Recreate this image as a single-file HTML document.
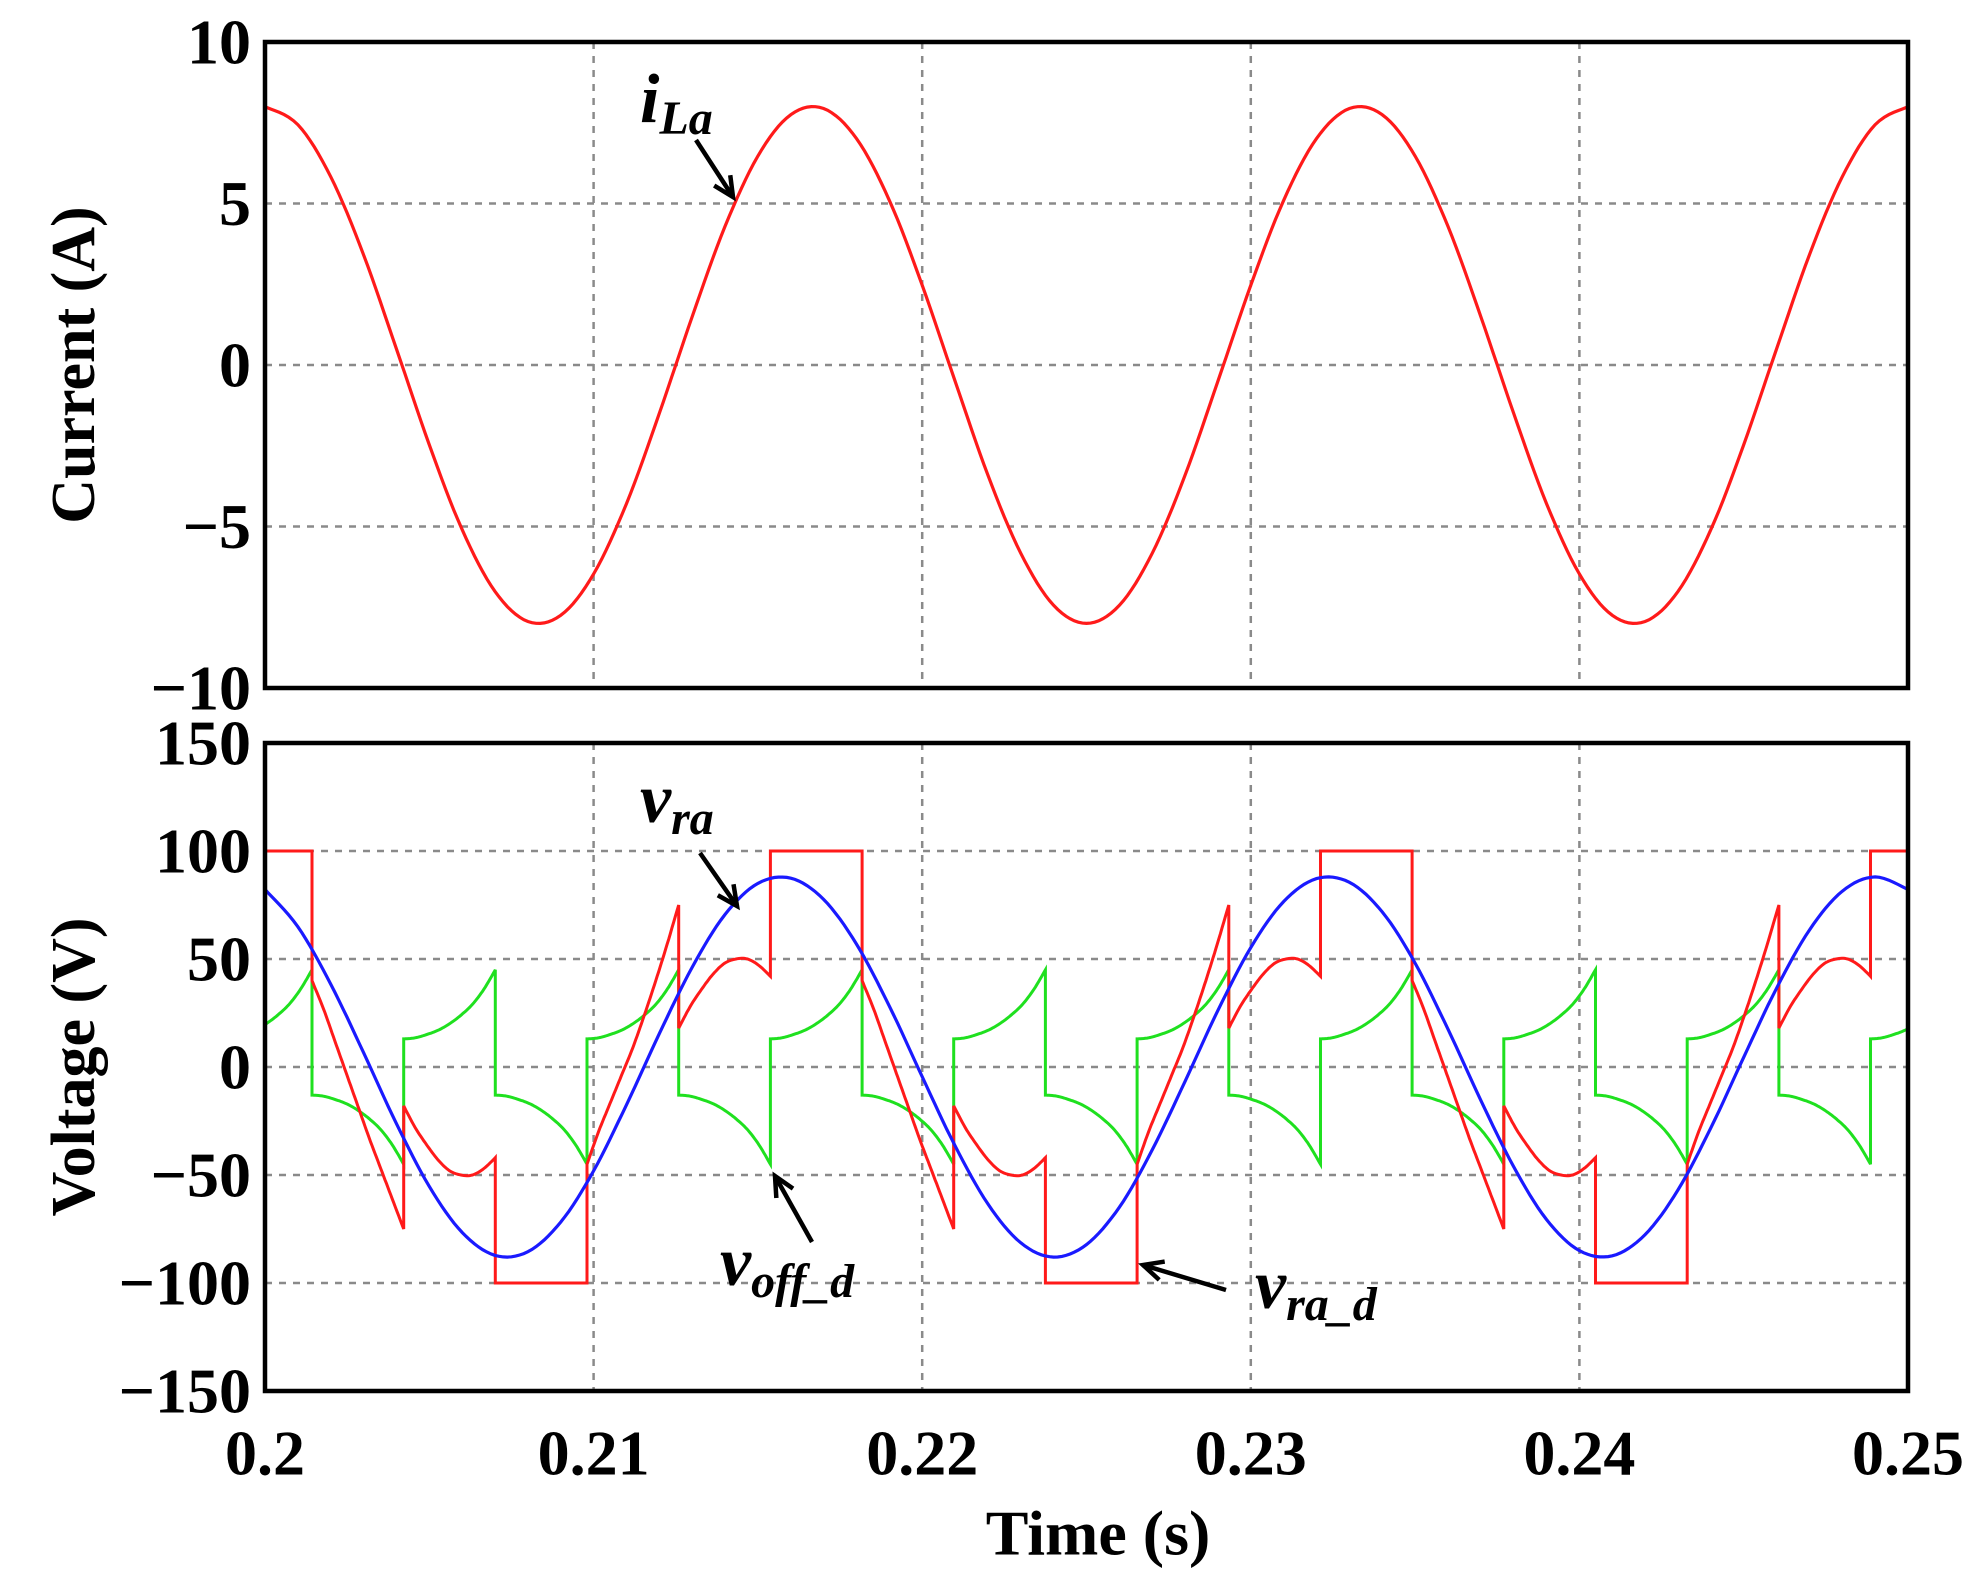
<!DOCTYPE html>
<html><head><meta charset="utf-8"><style>
html,body{margin:0;padding:0;background:#fff;}
svg{display:block;}
.t{font-family:"Liberation Serif",serif;font-weight:bold;fill:#000;}
</style></head><body>
<svg id="chart" width="1987" height="1579" viewBox="0 0 1987 1579" xmlns="http://www.w3.org/2000/svg">
<g id="grid"></g><g id="series"></g><g id="frames"></g><g id="labels"></g>
</svg>
<script>
// ---------- data ----------
const xTicks = [0.2, 0.21, 0.22, 0.23, 0.24, 0.25];
const xTickLabels = ["0.2", "0.21", "0.22", "0.23", "0.24", "0.25"];
const iTicks = [10, 5, 0, -5, -10];
const iTickLabels = ["10", "5", "0", "\u22125", "\u221210"];
const vTicks = [150, 100, 50, 0, -50, -100, -150];
const vTickLabels = ["150", "100", "50", "0", "\u221250", "\u2212100", "\u2212150"];
// sample times (ms after 0.2 s) for the sinusoidal traces
const sampleMs = [0,1,2,3,4,5,6,7,8,9,10,11,12,13,14,15,16,17,18,19,20,21,22,23,24,25,26,27,28,29,30,31,32,33,34,35,36,37,38,39,40,41,42,43,44,45,46,47,48,49,50];
const iLa = [8.00,7.44,5.83,3.41,0.50,-2.47,-5.10,-7.01,-7.94,-7.75,-6.47,-4.29,-1.50,1.50,4.29,6.47,7.75,7.94,7.01,5.10,2.47,-0.50,-3.41,-5.83,-7.44,-8.00,-7.44,-5.83,-3.41,-0.50,2.47,5.10,7.01,7.94,7.75,6.47,4.29,1.50,-1.50,-4.29,-6.47,-7.75,-7.94,-7.01,-5.10,-2.47,0.50,3.41,5.83,7.44,8.00];
const vRa = [82.2,64.9,38.4,6.6,-26.2,-55.3,-76.6,-87.2,-85.5,-71.8,-48.1,-17.5,15.4,46.2,70.6,85.0,87.4,77.6,56.9,28.2,-4.5,-36.5,-63.4,-81.4,-88.0,-82.2,-64.9,-38.4,-6.6,26.2,55.3,76.6,87.2,85.5,71.8,48.1,17.5,-15.4,-46.2,-70.6,-85.0,-87.4,-77.6,-56.9,-28.2,4.5,36.5,63.4,81.4,88.0,82.2];
// switching segments (ms after 0.2 s)
const segStartMs = [-1.36,1.43,4.22,7.01,9.80,12.59,15.38,18.17,20.96,23.75,26.54,29.33,32.12,34.91,37.70,40.49,43.28,46.07,48.86];
const segEndMs   = [1.43,4.22,7.01,9.80,12.59,15.38,18.17,20.96,23.75,26.54,29.33,32.12,34.91,37.70,40.49,43.28,46.07,48.86,51.65];
const redSegType = ["P","D","HN","N","A","HP","P","D","HN","N","A","HP","P","D","HN","N","A","HP","P"];
const greenSegSign = [1,-1,1,-1,1,-1,1,-1,1,-1,1,-1,1,-1,1,-1,1,-1,1];
// per-segment shapes (9 samples over each segment)
const redFlatPos = [100,100,100,100,100,100,100,100,100];
const redFlatNeg = [-100,-100,-100,-100,-100,-100,-100,-100,-100];
const redDescend = [40,27,12,-3,-18,-33,-47,-61,-75];
const redAscend = [-45,-30,-17,-4,9,24,40,57,75];
const redHumpNeg = [-18,-28,-36,-43,-48,-50,-50,-47,-42];
const redHumpPos = [18,28,36,43,48,50,50,47,42];
const greenRise = [13,13.5,15,17,20,24,29,36,45];

// ---------- axes ----------
const X0 = 265, X1 = 1908;
const xs = t => X0 + (t - 0.2) / 0.05 * (X1 - X0);
const xms = ms => xs(0.2 + ms / 1000);
const iTop = 42, iBot = 688;
const yi = v => iTop + (10 - v) / 20 * (iBot - iTop);
const vTop = 743, vBot = 1391;
const yv = v => vTop + (150 - v) / 300 * (vBot - vTop);

const NS = "http://www.w3.org/2000/svg";
function mk(tag, parent, attrs) {
  const e = document.createElementNS(NS, tag);
  for (const k in attrs) e.setAttribute(k, attrs[k]);
  document.getElementById(parent).appendChild(e);
  return e;
}
const clipL = X0, clipR = X1;

// grid
[5, 0, -5].forEach(v => {
  const g = mk("line", "grid", {x1: X0, x2: X1, y1: yi(v), y2: yi(v), stroke: "#8a8a8a", "stroke-width": 2.5, "stroke-dasharray": "7,7"});
  
  
});
[100, 50, 0, -50, -100].forEach(v => {
  const g = mk("line", "grid", {x1: X0, x2: X1, y1: yv(v), y2: yv(v), stroke: "#8a8a8a", "stroke-width": 2.5, "stroke-dasharray": "7,7"});
  
  
});
xTicks.slice(1, -1).forEach(t => {
  [[iTop, iBot], [vTop, vBot]].forEach(r => {
    const g = mk("line", "grid", {x1: xs(t), x2: xs(t), y1: r[0], y2: r[1], stroke: "#8a8a8a", "stroke-width": 2.5, "stroke-dasharray": "7,7"});
    
    
  });
});

function pathFrom(pts) { return pts.map((p, i) => (i ? "L" : "M") + p[0].toFixed(1) + "," + p[1].toFixed(1)).join(""); }
function smooth(msArr, vals, yf) {
  const pts = [];
  for (let i = 0; i < msArr.length - 1; i++) {
    const p0 = i ? i - 1 : i, p3 = i + 2 < msArr.length ? i + 2 : i + 1;
    for (let s = 0; s < 8; s++) {
      const u = s / 8;
      const cr = (a, b, c, d) => 0.5 * (2 * b + (-a + c) * u + (2 * a - 5 * b + 4 * c - d) * u * u + (-a + 3 * b - 3 * c + d) * u * u * u);
      pts.push([xms(cr(msArr[p0], msArr[i], msArr[i + 1], msArr[p3])), yf(cr(vals[p0], vals[i], vals[i + 1], vals[p3]))]);
    }
  }
  pts.push([xms(msArr[msArr.length - 1]), yf(vals[vals.length - 1])]);
  return pts;
}
function segmentPts(shapeFor, yf) {
  const pts = [];
  for (let s = 0; s < segStartMs.length; s++) {
    const shape = shapeFor(s);
    const n = shape.length;
    const msArr = shape.map((_, k) => segStartMs[s] + (segEndMs[s] - segStartMs[s]) * k / (n - 1));
    smooth(msArr, shape, yf).forEach(p => pts.push(p));
  }
  return pts.filter(p => p[0] >= clipL - 0.01 && p[0] <= clipR + 0.01);
}
const redShapes = {P: redFlatPos, N: redFlatNeg, D: redDescend, A: redAscend, HN: redHumpNeg, HP: redHumpPos};

const cp = mk("clipPath", "series", {id: "vclip"});
const cr = document.createElementNS(NS, "rect");
cr.setAttribute("x", X0); cr.setAttribute("y", vTop); cr.setAttribute("width", X1 - X0); cr.setAttribute("height", vBot - vTop);
cp.appendChild(cr);

const iPath = mk("path", "series", {d: pathFrom(smooth(sampleMs, iLa, yi)), fill: "none", stroke: "#ff1a1a", "stroke-width": 3.2});



const gPath = mk("path", "series", {"clip-path": "url(#vclip)", d: pathFrom(segmentPts(s => greenRise.map(v => v * greenSegSign[s]), yv)), fill: "none", stroke: "#1fe01f", "stroke-width": 3});



const rPath = mk("path", "series", {"clip-path": "url(#vclip)", d: pathFrom(segmentPts(s => redShapes[redSegType[s]], yv)), fill: "none", stroke: "#ff1a1a", "stroke-width": 3});



const bPath = mk("path", "series", {d: pathFrom(smooth(sampleMs, vRa, yv)), fill: "none", stroke: "#1a1aff", "stroke-width": 3.2});



const f1 = mk("rect", "frames", {x: X0, y: iTop, width: X1 - X0, height: iBot - iTop, fill: "none", stroke: "#000", "stroke-width": 4.5});


const f2 = mk("rect", "frames", {x: X0, y: vTop, width: X1 - X0, height: vBot - vTop, fill: "none", stroke: "#000", "stroke-width": 4.5});



function txt(x, y, s, size, anchor, name) {
  const e = mk("text", "labels", {x: x, y: y, "font-size": size, "text-anchor": anchor, class: "t", "dominant-baseline": "central"});
  e.textContent = s;
  
  
  return e;
}
iTicks.forEach((v, k) => txt(251, yi(v), iTickLabels[k], 64, "end", "current-tick-label"));
vTicks.forEach((v, k) => txt(251, yv(v), vTickLabels[k], 64, "end", "voltage-tick-label"));
xTicks.forEach((t, k) => txt(xs(t), 1453, xTickLabels[k], 64, "middle", "time-tick-label"));

const yt1 = txt(0, 0, "Current (A)", 62, "middle", "current-axis-title");
yt1.setAttribute("transform", "translate(74,365) rotate(-90)");
const yt2 = txt(0, 0, "Voltage (V)", 62, "middle", "voltage-axis-title");
yt2.setAttribute("transform", "translate(74,1067) rotate(-90)");
txt(1098, 1533, "Time (s)", 64, "middle", "time-axis-title");

function ann(x, y, main, sub, name) {
  const e = mk("text", "labels", {x: x, y: y, class: "t", "font-style": "italic", "font-size": 70});
  e.innerHTML = main + '<tspan font-size="48" dy="12">' + sub + '</tspan>';
  
  
}
function arrow(x1, y1, x2, y2, name) {
  const g = mk("g", "labels", {});
  
  
  const a = Math.atan2(y2 - y1, x2 - x1), L = 22, w = 0.45;
  const l = document.createElementNS(NS, "line");
  l.setAttribute("x1", x1); l.setAttribute("y1", y1); l.setAttribute("x2", x2); l.setAttribute("y2", y2);
  l.setAttribute("stroke", "#000"); l.setAttribute("stroke-width", 4.5);
  g.appendChild(l);
  const h = document.createElementNS(NS, "path");
  h.setAttribute("d", `M${x2 - L * Math.cos(a - w)},${y2 - L * Math.sin(a - w)} L${x2},${y2} L${x2 - L * Math.cos(a + w)},${y2 - L * Math.sin(a + w)}`);
  h.setAttribute("fill", "none"); h.setAttribute("stroke", "#000"); h.setAttribute("stroke-width", 4.5);
  g.appendChild(h);
}
ann(640, 122, "i", "La", "i-la-label");
arrow(696, 140, 733, 197, "i-la-arrow");
ann(640, 822, "v", "ra", "v-ra-label");
arrow(700, 853, 737, 906, "v-ra-arrow");
ann(720, 1285, "v", "off_d", "v-off-d-label");
arrow(812, 1242, 775, 1176, "v-off-d-arrow");
ann(1255, 1308, "v", "ra_d", "v-ra-d-label");
arrow(1226, 1290, 1143, 1265, "v-ra-d-arrow");
</script>
</body></html>
